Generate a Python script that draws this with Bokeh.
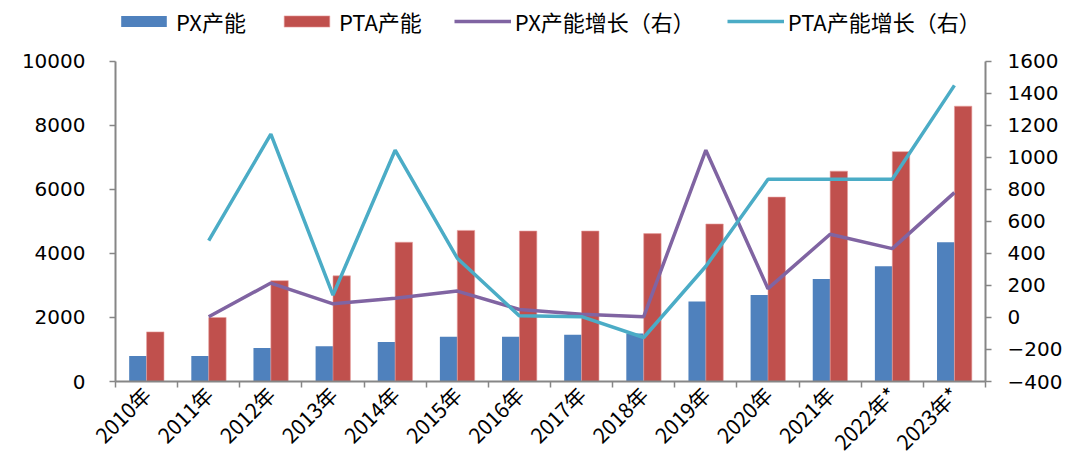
import math
from bokeh.plotting import figure
from bokeh.models import Range1d, LinearAxis, FixedTicker, Legend, LegendItem
from bokeh.embed import file_html
from bokeh.resources import INLINE

years = ["2010年", "2011年", "2012年", "2013年", "2014年", "2015年", "2016年",
         "2017年", "2018年", "2019年", "2020年", "2021年", "2022年*", "2023年*"]
px_cap = [800, 800, 1050, 1100, 1230, 1400, 1400, 1460, 1500, 2500, 2700, 3200, 3600, 4350]
pta_cap = [1550, 2000, 3150, 3300, 4350, 4720, 4700, 4700, 4620, 4920, 5760, 6570, 7180, 8600]
# growth series (right axis), 2011 .. 2023
px_growth = [5, 215, 85, 120, 165, 50, 20, 5, 1045, 180, 520, 430, 780]
pta_growth = [480, 1145, 140, 1045, 370, 10, 5, -125, 320, 863, 863, 863, 1450]
left_ticks = [0, 2000, 4000, 6000, 8000, 10000]
right_ticks = [-400, -200, 0, 200, 400, 600, 800, 1000, 1200, 1400, 1600]

FONT_NUM = "DejaVu Sans"
FONT_CJK = "Noto Sans CJK SC"

idx = list(range(len(years)))
gidx = idx[1:]

# plot frame spans from the legend row down to the x axis; the axes are bounded
# to the data ranges so the upper strip holds only the legend
TOP_PAD = 374.0 / 321.0
left_max = left_ticks[-1]
r_lo, r_hi = right_ticks[0], right_ticks[-1]

p = figure(width=1066, height=469, output_backend="svg", toolbar_location=None,
           x_range=Range1d(-0.5, len(years) - 0.5),
           y_range=Range1d(0, left_max * TOP_PAD),
           min_border_left=115, min_border_right=81, min_border_top=8, min_border_bottom=87)
p.extra_y_ranges = {"right": Range1d(r_lo, r_lo + (r_hi - r_lo) * TOP_PAD)}
p.outline_line_color = None
p.xgrid.visible = False
p.ygrid.visible = False

b1 = p.vbar(x=[i - 0.14 for i in idx], top=px_cap, width=0.28, bottom=0,
            fill_color="#4F81BD", line_color=None)
b2 = p.vbar(x=[i + 0.14 for i in idx], top=pta_cap, width=0.28, bottom=0,
            fill_color="#C0504D", line_color="#E8A09E", line_width=0.6)
l1 = p.line(x=gidx, y=px_growth, y_range_name="right", line_color="#8064A2", line_width=3.5)
l2 = p.line(x=gidx, y=pta_growth, y_range_name="right", line_color="#4BACC6", line_width=3.5)

axis_color = "#868686"

ya = p.yaxis[0]
ya.ticker = FixedTicker(ticks=left_ticks)
ya.bounds = (0, left_max)
ya.axis_line_color = axis_color
ya.axis_line_width = 2
ya.major_tick_line_color = axis_color
ya.major_tick_line_width = 1.5
ya.major_tick_out = 6
ya.major_tick_in = 0
ya.minor_tick_line_color = None
ya.major_label_text_font = FONT_NUM
ya.major_label_text_font_size = "20px"
ya.major_label_text_color = "black"
ya.major_label_standoff = 24

ra = LinearAxis(y_range_name="right", ticker=FixedTicker(ticks=right_ticks))
ra.bounds = (r_lo, r_hi)
ra.axis_line_color = axis_color
ra.axis_line_width = 2
ra.major_tick_line_color = axis_color
ra.major_tick_line_width = 1.5
ra.major_tick_out = 6
ra.major_tick_in = 0
ra.minor_tick_line_color = None
ra.major_label_text_font = FONT_NUM
ra.major_label_text_font_size = "20px"
ra.major_label_text_color = "black"
ra.major_label_standoff = 16
p.add_layout(ra, "right")

xa = p.xaxis[0]
xa.ticker = FixedTicker(ticks=idx, minor_ticks=[i - 0.5 for i in range(len(years) + 1)])
xa.major_label_overrides = {i: years[i] for i in idx}
xa.major_tick_line_color = None
xa.minor_tick_line_color = axis_color
xa.minor_tick_line_width = 1.5
xa.minor_tick_out = 6
xa.minor_tick_in = 0
xa.axis_line_color = axis_color
xa.axis_line_width = 2
xa.major_label_orientation = math.pi / 4
xa.major_label_text_font = FONT_CJK
xa.major_label_text_font_size = "21px"
xa.major_label_text_color = "black"
xa.major_label_standoff = 3

legend = Legend(items=[
    LegendItem(label="PX产能", renderers=[b1]),
    LegendItem(label="PTA产能", renderers=[b2]),
    LegendItem(label="PX产能增长（右）", renderers=[l1]),
    LegendItem(label="PTA产能增长（右）", renderers=[l2]),
], orientation="horizontal", location=(0, 344))
legend.border_line_color = None
legend.background_fill_alpha = 0
legend.label_text_font = FONT_CJK
legend.label_text_font_size = "22px"
legend.label_text_color = "black"
legend.glyph_width = 57
legend.glyph_height = 14
legend.label_standoff = 4
legend.spacing = 32
legend.padding = 0
legend.margin = 0
legend.label_height = 22
p.add_layout(legend, "center")

open("out.html", "w").write(file_html(p, INLINE))
